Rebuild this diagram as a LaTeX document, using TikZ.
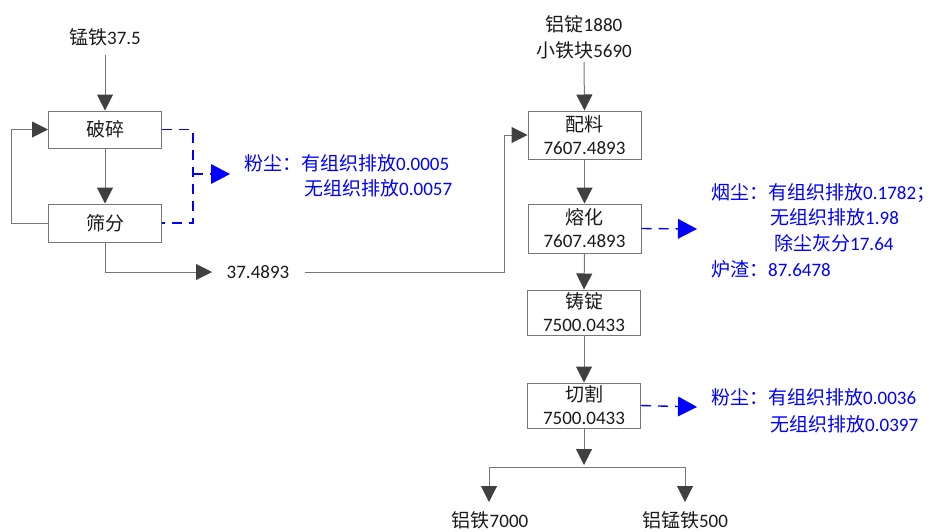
\documentclass[tikz,border=0pt]{standalone}
\usepackage{fontspec}
\setmainfont{Carlito}
\newfontfamily\cjk{Noto Sans CJK SC}
\usetikzlibrary{arrows.meta}
\definecolor{lnc}{HTML}{767676}
\definecolor{tipc}{HTML}{404040}
\definecolor{txc}{HTML}{1A1A1A}
\definecolor{blu}{RGB}{0,0,255}
\newcommand{\zh}[1]{{\cjk #1}}
\begin{document}
\begin{tikzpicture}[x=1pt,y=-1pt,
  font=\fontsize{19}{23}\selectfont,
  box/.style={draw=lnc, line width=1pt, minimum width=113pt, text=txc, align=center, inner sep=0pt},
  lbl/.style={text=txc, inner sep=0pt, align=center},
  btx/.style={text=blu, inner sep=0pt, anchor=west},
  ln/.style={draw=lnc, line width=1pt},
  arr/.style={ln, -{Triangle[width=16pt,length=16pt,color=tipc]}},
  dsh/.style={draw=blu, line width=1.4pt, dash pattern=on 10pt off 7pt},
  darr/.style={dsh, -{Triangle[width=20pt,length=19pt,color=blu,line width=0pt]}}]
\useasboundingbox (0,0) rectangle (933,531);

% left part
\node[lbl] (mn) at (105,37) {\zh{锰铁}37.5};
\node[box, minimum height=37pt] (ps) at (105,129.5) {\zh{破碎}};
\node[box, minimum height=38pt] (sf) at (105,223) {\zh{筛分}};
\node[lbl] (r1) at (258,272) {37.4893};
\coordinate (c1) at (105,55);
\coordinate (r1w) at (212,272);
\coordinate (r1e) at (305,272);

\draw[arr] (c1) -- (ps.north);
\draw[arr] (ps.south) -- (sf.north);
\draw[arr] (sf.west) -- ++(-37,0) |- (ps.west);
\draw[arr] (sf.south) |- (r1w);

\draw[dsh] (ps.east) -- ++(31,0) |- (sf.east);
\coordinate (d1) at (193,174);
\coordinate (d1t) at (230,174);
\draw[darr] (d1) -- (d1t);
\node[btx] (f1) at (244,163) {\zh{粉尘：有组织排放}0.0005};
\node[btx] (f2) at (304,188) {\zh{无组织排放}0.0057};

% right part
\node[lbl] (in1) at (584,24) {\zh{铝锭}1880};
\node[lbl] (in2) at (584,50) {\zh{小铁块}5690};
\coordinate (c2) at (584,62);
\node[box, minimum height=48pt] (pl) at (584.5,135) {\zh{配料}\\7607.4893};
\node[box, minimum height=49pt] (rh) at (584.5,228.5) {\zh{熔化}\\7607.4893};
\node[box, minimum height=45pt] (zd) at (584,312.5) {\zh{铸锭}\\7500.0433};
\node[box, minimum height=45pt] (qg) at (584,405.5) {\zh{切割}\\7500.0433};

\draw[arr] (c2) -- (pl.north);
\draw[arr] (r1e) -- (504,272) |- (pl.west);
\draw[arr] (pl.south) -- (rh.north);
\draw[arr] (rh.south) -- (zd.north);
\draw[arr] (zd.south) -- (qg.north);

\coordinate (d2t) at (697,229);
\draw[darr] (rh.east) -- (d2t);
\node[btx] (y1) at (711,193) {\zh{烟尘：有组织排放}0.1782\zh{；}};
\node[btx] (y2) at (770,217) {\zh{无组织排放}1.98};
\node[btx] (y3) at (774,243) {\zh{除尘灰分}17.64};
\node[btx] (y4) at (711,269) {\zh{炉渣：}87.6478};

\coordinate (d3t) at (697,407);
\draw[darr] (qg.east) -- (d3t);
\node[btx] (g1) at (711,397) {\zh{粉尘：有组织排放}0.0036};
\node[btx] (g2) at (770,424) {\zh{无组织排放}0.0397};

% outputs
\coordinate (j) at (584,465);
\coordinate (jl) at (489,467);
\coordinate (jr) at (685,467);
\node[lbl] (o1) at (490,520) {\zh{铝铁}7000};
\node[lbl] (o2) at (685,520) {\zh{铝锰铁}500};
\coordinate (o1t) at (489,502);
\coordinate (o2t) at (685,502);
\draw[arr] (qg.south) -- (j);
\draw[ln] (jl) -- (jr);
\draw[arr] (jl) -- (o1t);
\draw[arr] (jr) -- (o2t);
\end{tikzpicture}
\end{document}
